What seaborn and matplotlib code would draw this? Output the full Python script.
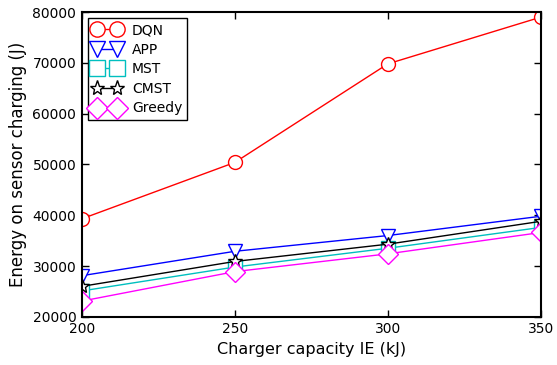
import pandas as pd
import numpy as np
import matplotlib
matplotlib.use("Agg")
import matplotlib.pyplot as plt
import seaborn as sns

capacity = [200, 250, 300, 350]
dqn = [39300, 50400, 69800, 79000]
app = [28100, 32900, 36000, 39800]
mst = [25100, 29800, 33500, 37600]
cmst = [26000, 30900, 34300, 38800]
greedy = [23100, 28900, 32400, 36600]

series = ["DQN", "APP", "MST", "CMST", "Greedy"]
values = [dqn, app, mst, cmst, greedy]
colors = ["#FF0000", "#0000FF", "#00BFBF", "#000000", "#FF00FF"]
markers = ["o", "v", "s", "*", "D"]

sns.set_style("ticks")
plt.rcParams["font.family"] = ["DejaVu Sans"]
plt.rcParams["text.color"] = "black"
plt.rcParams["axes.labelcolor"] = "black"

fig = plt.figure(figsize=(5.57, 3.65), dpi=100)
ax = fig.add_axes([0.147, 0.132, 0.824, 0.835])

for name, vals, c, m in zip(series, values, colors, markers):
    df = pd.DataFrame({"x": capacity, "y": vals})
    sns.lineplot(data=df, x="x", y="y", ax=ax, color=c, marker=m, markersize=10,
                 markerfacecolor="white", markeredgecolor=c, markeredgewidth=1,
                 linewidth=1, label=name)

ax.set_xlim(200, 350)
ax.set_ylim(20000, 80000)
ax.set_xticks([200, 250, 300, 350])
ax.set_yticks(np.arange(20000, 80001, 10000))
ax.tick_params(direction="in", top=True, right=True, length=5, width=1,
               labelsize=10, colors="black", pad=4)
for s in ax.spines.values():
    s.set_linewidth(1.5)
    s.set_color("black")
    s.set_zorder(5)

ax.set_xlabel("Charger capacity IE (kJ)", fontsize=11.5, color="black")
ax.set_ylabel("Energy on sensor charging (J)", fontsize=12, color="black")

leg = ax.legend(loc="upper left", numpoints=2, fontsize=10, fancybox=False,
                framealpha=1, borderaxespad=0.45, handlelength=2.0,
                handletextpad=0.8, labelspacing=0.4, borderpad=0.35,
                markerscale=1.1)
leg.get_frame().set_edgecolor("black")
leg.get_frame().set_linewidth(1)
for t in leg.get_texts():
    t.set_color("black")

fig.savefig("out.png", dpi=100)
